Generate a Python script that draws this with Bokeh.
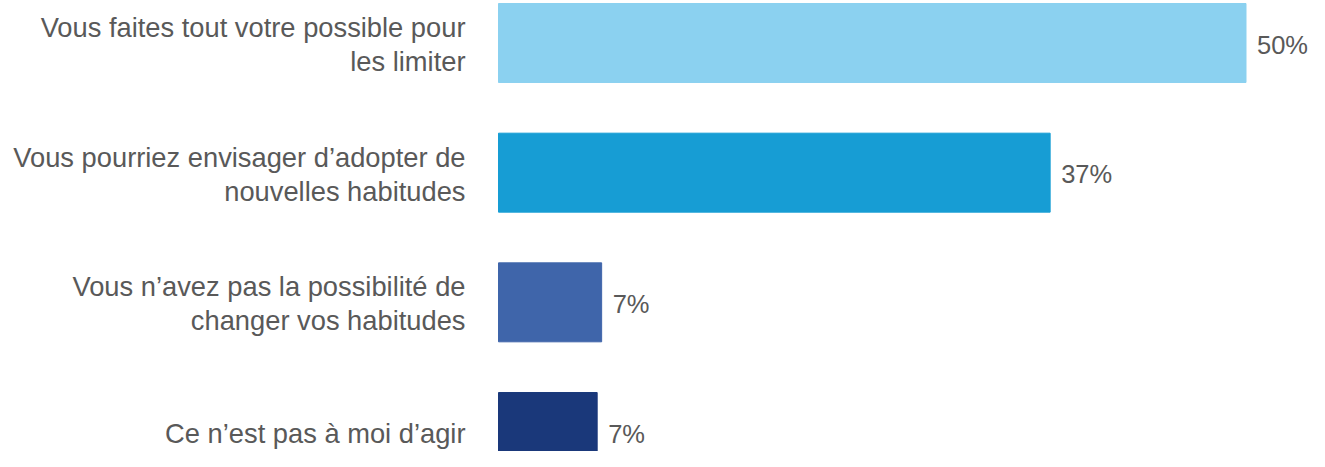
from bokeh.plotting import figure
from bokeh.models import ColumnDataSource, Range1d
from bokeh.core.properties import value
from bokeh.embed import file_html
from bokeh.resources import INLINE

categories = [
    "Vous faites tout votre possible pour\nles limiter",
    "Vous pourriez envisager d\u2019adopter de\nnouvelles habitudes",
    "Vous n\u2019avez pas la possibilit\u00e9 de\nchanger vos habitudes",
    "Ce n\u2019est pas \u00e0 moi d\u2019agir",
]
values = [50.0, 36.9, 6.9, 6.6]
value_labels = ["50%", "37%", "7%", "7%"]
colors = ["#8BD1F0", "#179DD4", "#3F65AA", "#1A387A"]

idx = list(range(len(categories)))

src = ColumnDataSource(dict(y=idx, val=values, lab=value_labels, color=colors))

# split category labels into individual lines for precise placement
line_y, line_txt, line_off = [], [], []
for i, c in zip(idx, categories):
    parts = c.split("\n")
    if len(parts) == 1:
        offs = [1.5]
    else:
        offs = [-15.5, 18.5]
    for t, o in zip(parts, offs):
        line_y.append(i)
        line_txt.append(t)
        line_off.append(o)
lsrc = ColumnDataSource(dict(y=line_y, t=line_txt, off=line_off))

W, H = 1309, 451
px_per_unit = 14.95
x0_px = 498.0
x_start = -x0_px / px_per_unit
x_end = (W - x0_px) / px_per_unit

row_px = 129.67
top_px = 42.5
y_top = -top_px / row_px
y_bottom = (H - top_px) / row_px

p = figure(width=W, height=H, output_backend="svg", toolbar_location=None,
           x_range=Range1d(x_start, x_end), y_range=Range1d(y_bottom, y_top),
           min_border=0, outline_line_color=None, background_fill_color="white",
           border_fill_color="white")
p.xaxis.visible = False
p.yaxis.visible = False
p.grid.visible = False

p.hbar(y="y", left=0, right="val", height=0.609, color="color", source=src)

p.text(x=0, y="y", text="t", source=lsrc, x_offset=-33, y_offset="off",
       text_align="right", text_baseline="alphabetic", text_font=value("Liberation Sans"),
       text_font_size="27.3px", text_color="#595959")

p.text(x="val", y="y", text="lab", source=src, x_offset=11, y_offset=1.5,
       text_align="left", text_baseline="alphabetic", text_font=value("Liberation Sans"),
       text_font_size="25.5px", text_color="#595959")

open("out.html", "w").write(file_html(p, INLINE))
